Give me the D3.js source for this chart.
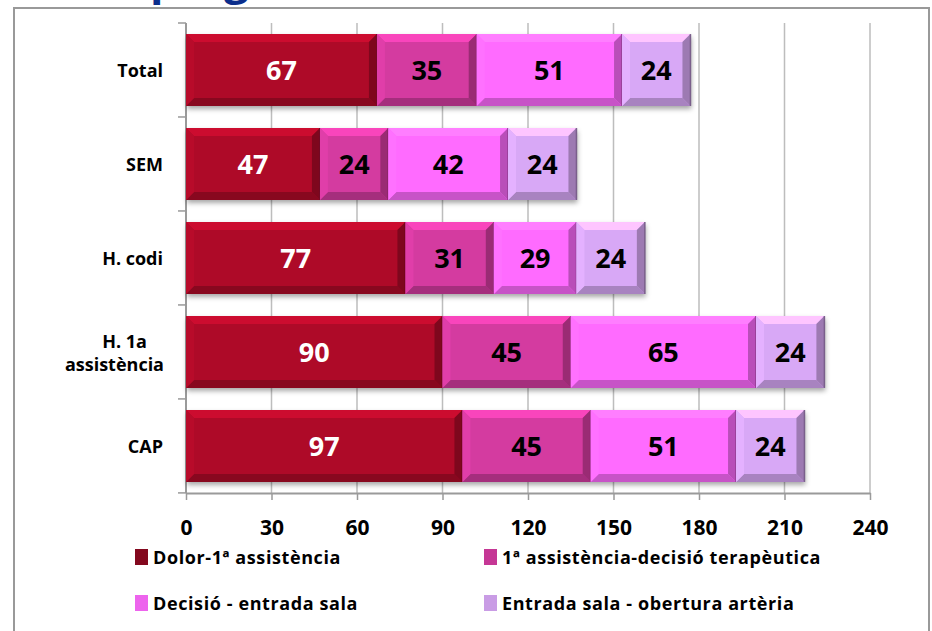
<!DOCTYPE html>
<html>
<head>
<meta charset="utf-8">
<script src="https://cdn.jsdelivr.net/npm/d3@7"></script>
<style>
  body { margin: 0; background: #fff; }
  svg text { font-family: "Open Sans", Lato, sans-serif; font-weight: bold; }
</style>
</head>
<body>
<svg id="chart" width="932" height="631"></svg>
<script>
// categories, top to bottom
const categories = ['Total', 'SEM', 'H. codi', 'H. 1a assistència', 'CAP'];
// series, one value per category
const seriesNames = ['Dolor-1ª assistència', '1ª assistència-decisió terapèutica',
  'Decisió - entrada sala', 'Entrada sala - obertura artèria'];
const dolor = [67, 47, 77, 90, 97];
const decisio1 = [35, 24, 31, 45, 45];
const entrada = [51, 42, 29, 65, 51];
const obertura = [24, 24, 24, 24, 24];
const xTicks = [0, 30, 60, 90, 120, 150, 180, 210, 240];

const colors = ['#ae0a28', '#d43ba0', '#ff6bff', '#d8a8f6'];
const labelColors = ['#fff', '#000', '#000', '#000'];

const svg = d3.select('#chart');
const margin = {left: 186, right: 62, top: 23, bottom: 138};
const W = 932, H = 631;

// frame around the chart (the slide box)
svg.append('rect')
  .attr('x', 14).attr('y', 8).attr('width', 915).attr('height', 640)
  .attr('fill', 'none').attr('stroke', '#999').attr('stroke-width', 2);

// cut-off title above the frame, only descenders show
svg.append('text').attr('x', 150).attr('y', -6)
  .attr('font-size', 44).attr('fill', '#0b2e8c').text('p');
svg.append('text').attr('x', 224).attr('y', -6)
  .attr('font-size', 44).attr('fill', '#0b2e8c').text('g');

const xscale = d3.scaleLinear().domain([0, 240]).range([margin.left, W - margin.right]);
const yscale = d3.scaleBand().domain(categories)
  .range([margin.top, H - margin.bottom]).paddingInner(0.235).paddingOuter(0.118);

const defs = svg.append('defs');
const shadow = defs.append('filter').attr('id', 'shadow')
  .attr('x', '-10%').attr('y', '-20%').attr('width', '120%').attr('height', '150%');
shadow.append('feDropShadow').attr('dx', 1).attr('dy', 3).attr('stdDeviation', 2.5)
  .attr('flood-color', '#000').attr('flood-opacity', 0.35);

// gridlines
svg.append('g').selectAll('line').data(xTicks.slice(1))
  .enter().append('line')
  .attr('x1', d => xscale(d)).attr('x2', d => xscale(d))
  .attr('y1', margin.top).attr('y2', H - margin.bottom)
  .attr('stroke', '#bdbdbd').attr('stroke-width', 1.5);

// x axis
const xaxis = svg.append('g')
  .attr('transform', `translate(0 ${H - margin.bottom})`)
  .call(d3.axisBottom(xscale).tickValues(xTicks).tickSizeOuter(0).tickSizeInner(7).tickPadding(20));
xaxis.select('.domain').attr('stroke', '#9a9a9a').attr('stroke-width', 2);
xaxis.selectAll('.tick line').attr('stroke', '#9a9a9a').attr('stroke-width', 1.5);
xaxis.selectAll('.tick text').attr('font-size', 21).attr('fill', '#000')
  .style('font-family', '"Open Sans", sans-serif').style('font-weight', 'bold');

// y axis: ticks at the band boundaries
const bstep = yscale.step();
const bounds = d3.range(categories.length + 1).map(i => margin.top + i * bstep);
svg.append('line')
  .attr('x1', margin.left).attr('x2', margin.left)
  .attr('y1', margin.top).attr('y2', H - margin.bottom)
  .attr('stroke', '#9a9a9a').attr('stroke-width', 2);
svg.append('g').selectAll('line').data(bounds).enter().append('line')
  .attr('x1', margin.left - 8).attr('x2', margin.left)
  .attr('y1', d => d).attr('y2', d => d)
  .attr('stroke', '#9a9a9a').attr('stroke-width', 1.5);

// category labels
const catg = svg.append('g');
categories.forEach(c => {
  const cy = yscale(c) + yscale.bandwidth() / 2;
  const t = catg.append('text').attr('text-anchor', 'end').attr('font-size', 18)
    .attr('fill', '#000');
  if (c === 'H. 1a assistència') {
    t.append('tspan').attr('x', 147).attr('y', cy - 4).text('H. 1a');
    t.append('tspan').attr('x', 164).attr('y', cy + 19).text('assistència');
  } else {
    t.attr('x', 163).attr('y', cy + 7).text(c);
  }
});

// stacked data
const rows = categories.map((c, i) => ({cat: c, vals: [dolor[i], decisio1[i], entrada[i], obertura[i]]}));
const segs = [];
rows.forEach(r => {
  let acc = 0;
  r.vals.forEach((v, k) => {
    segs.push({cat: r.cat, k: k, v: v, x0: acc, x1: acc + v});
    acc += v;
  });
});

// bevelled segment
function bevel(g, d) {
  const x0 = xscale(d.x0), x1 = xscale(d.x1);
  const y0 = yscale(d.cat), y1 = y0 + yscale.bandwidth();
  const b = 8;
  const base = d3.color(colors[d.k]);
  g.append('rect').attr('x', x0).attr('y', y0).attr('width', x1 - x0).attr('height', y1 - y0)
    .attr('fill', base);
  const faces = [
    {pts: [[x0, y0], [x1, y0], [x1 - b, y0 + b], [x0 + b, y0 + b]], c: base.brighter(0.45)},
    {pts: [[x0, y1], [x1, y1], [x1 - b, y1 - b], [x0 + b, y1 - b]], c: base.darker(0.7)},
    {pts: [[x0, y0], [x0 + b, y0 + b], [x0 + b, y1 - b], [x0, y1]], c: base.brighter(0.15)},
    {pts: [[x1, y0], [x1 - b, y0 + b], [x1 - b, y1 - b], [x1, y1]], c: base.darker(0.9)}
  ];
  faces.forEach(f => {
    g.append('polygon').attr('points', f.pts.map(p => p.join(',')).join(' ')).attr('fill', f.c);
  });
  g.append('line').attr('x1', x1).attr('x2', x1).attr('y1', y0).attr('y2', y1)
    .attr('stroke', base.darker(1.6)).attr('stroke-width', 1.5);
  g.append('text').attr('x', (x0 + x1) / 2).attr('y', (y0 + y1) / 2 + 10)
    .attr('text-anchor', 'middle').attr('font-size', 27)
    .attr('fill', labelColors[d.k]).text(d.v);
}

const barsG = svg.append('g');
rows.forEach(r => {
  barsG.append('rect')
    .attr('x', xscale(0)).attr('y', yscale(r.cat))
    .attr('width', xscale(d3.sum(r.vals)) - xscale(0)).attr('height', yscale.bandwidth())
    .attr('fill', '#888').attr('filter', 'url(#shadow)');
});
segs.forEach(d => bevel(barsG.append('g'), d));

// legend
const legendPos = [[135, 557], [484, 557], [135, 603], [484, 603]];
const lg = svg.append('g');
seriesNames.forEach((n, k) => {
  const [lx, ly] = legendPos[k];
  const base = d3.color(colors[k]);
  lg.append('rect').attr('x', lx).attr('y', ly - 8).attr('width', 13).attr('height', 16)
    .attr('fill', k === 0 ? base.darker(0.8) : base.darker(0.2));
  lg.append('text').attr('x', lx + 18).attr('y', ly + 7).attr('font-size', 18)
    .attr('letter-spacing', 0.6).attr('fill', '#000').text(n);
});
</script>
</body>
</html>
